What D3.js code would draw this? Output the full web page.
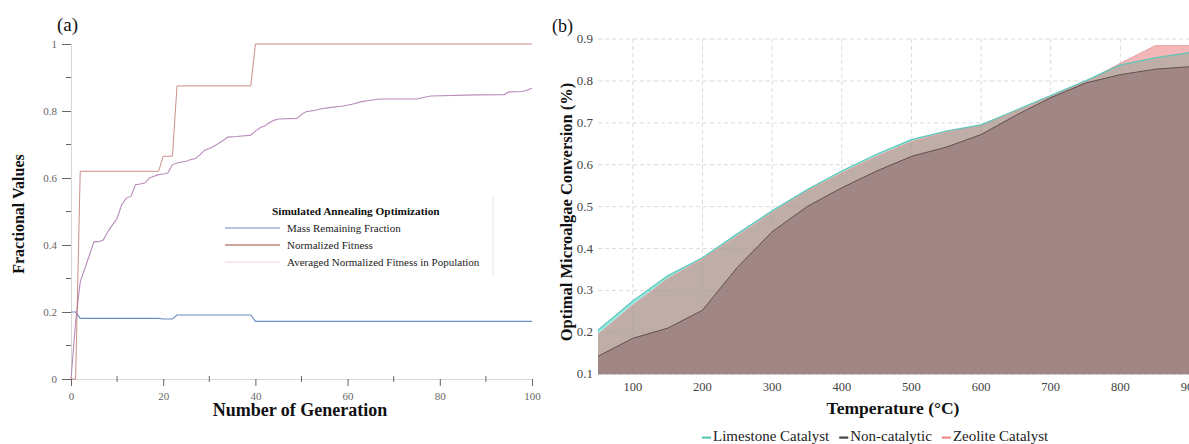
<!DOCTYPE html>
<html>
<head>
<meta charset="utf-8">
<script src="https://cdn.jsdelivr.net/npm/d3@7"></script>
<style>
  body { margin: 0; background: #fff; }
  svg { font-family: "Liberation Serif", "Times New Roman", serif; }
</style>
</head>
<body>
<div id="chart"></div>
<script>
// ---- panel (a) data: breakpoints of each series ----
var massGen = [0, 1, 2, 19, 20, 22, 23, 39, 40, 100];
var massVal = [0.2, 0.2, 0.181, 0.181, 0.179, 0.179, 0.191, 0.191, 0.172, 0.172];

var fitGen = [0, 1, 2, 19, 20, 22, 23, 39, 40, 100];
var fitVal = [0, 0, 0.62, 0.62, 0.665, 0.665, 0.875, 0.875, 1, 1];

var avgGen = [0, 1, 2, 3, 4, 5, 6, 7, 8, 9, 10, 11, 12, 13, 14, 15, 16, 17, 18, 19, 20, 21, 22, 23, 24, 25, 26, 27, 28, 29, 30,
  31, 32, 33, 34, 36, 39, 40, 41, 42, 43, 44, 45, 49, 50, 51, 53, 54, 56, 59, 61, 63, 65, 67, 75, 77, 78, 88, 94, 95, 98, 100];
var avgVal = [0, 0.17, 0.29, 0.33, 0.37, 0.41, 0.41, 0.415, 0.44, 0.46, 0.48, 0.52, 0.54, 0.545, 0.58, 0.582, 0.585, 0.6, 0.605, 0.61, 0.612,
  0.615, 0.64, 0.645, 0.648, 0.65, 0.655, 0.658, 0.67, 0.683, 0.688, 0.695, 0.703, 0.712, 0.722, 0.724, 0.728, 0.74, 0.75, 0.755, 0.765,
  0.772, 0.776, 0.778, 0.79, 0.798, 0.802, 0.806, 0.81, 0.815, 0.82, 0.828, 0.832, 0.836, 0.836, 0.842, 0.845, 0.848, 0.849, 0.857, 0.858, 0.868];

var genTicks = [0, 20, 40, 60, 80, 100];
var genMinor = [10, 30, 50, 70, 90];
var fracTicks = [0, 0.2, 0.4, 0.6, 0.8, 1];
var fracMinor = [0.1, 0.3, 0.5, 0.7, 0.9];

var legendA = ["Mass Remaining Fraction", "Normalized Fitness", "Averaged Normalized Fitness in Population"];

// ---- panel (b) data ----
var temps = [50, 100, 150, 200, 250, 300, 350, 400, 450, 500, 550, 600, 650, 700, 750, 800, 850, 900];
var limestone = [0.205, 0.275, 0.335, 0.378, 0.435, 0.49, 0.54, 0.585, 0.625, 0.66, 0.68, 0.695, 0.73, 0.765, 0.8, 0.838, 0.855, 0.868];
var zeolite = [0.195, 0.265, 0.328, 0.375, 0.43, 0.486, 0.537, 0.58, 0.62, 0.655, 0.678, 0.695, 0.728, 0.763, 0.798, 0.842, 0.884, 0.884];
var noncat = [0.143, 0.186, 0.21, 0.253, 0.355, 0.44, 0.5, 0.545, 0.585, 0.62, 0.642, 0.672, 0.718, 0.76, 0.795, 0.815, 0.828, 0.834];

var tempTicks = [100, 200, 300, 400, 500, 600, 700, 800, 900];
var convTicks = [0.1, 0.2, 0.3, 0.4, 0.5, 0.6, 0.7, 0.8, 0.9];
var legendB = ["Limestone Catalyst", "Non-catalytic", "Zeolite Catalyst"];

var svg = d3.select('#chart').append('svg')
    .attr('width', 1189)
    .attr('height', 444);

// ================= panel (a) =================
var xa = d3.scaleLinear().domain([0, 100]).range([71, 532]);
var ya = d3.scaleLinear().domain([0, 1]).range([379, 44]);

var a = svg.append('g');

var yAxisA = d3.axisLeft(ya).tickValues(fracTicks).tickSize(9).tickPadding(5)
    .tickFormat(function (d) { return d === 0 || d === 1 ? d : d3.format('.1f')(d); });
var gy = a.append('g').attr('transform', 'translate(71,0)').call(yAxisA)
    .attr('font-family', null).attr('font-size', null);
gy.select('.domain').attr('stroke', '#d6d6d6');
gy.selectAll('.tick line').attr('stroke', '#666');
gy.selectAll('.tick text').attr('fill', '#666').style('font-size', '11px');
a.selectAll('.yminor').data(fracMinor).enter().append('line')
    .attr('x1', 66).attr('x2', 71)
    .attr('y1', function (d) { return ya(d); }).attr('y2', function (d) { return ya(d); })
    .attr('stroke', '#666');

var xAxisA = d3.axisBottom(xa).tickValues(genTicks).tickSize(7).tickPadding(6);
var gx = a.append('g').attr('transform', 'translate(0,379)').call(xAxisA)
    .attr('font-family', null).attr('font-size', null);
gx.select('.domain').attr('stroke', '#d6d6d6');
gx.selectAll('.tick line').attr('stroke', '#666');
gx.selectAll('.tick text').attr('fill', '#666').style('font-size', '11px');
a.selectAll('.xminor').data(genMinor).enter().append('line')
    .attr('x1', function (d) { return xa(d); }).attr('x2', function (d) { return xa(d); })
    .attr('y1', 376).attr('y2', 382)
    .attr('stroke', '#666');

var lineA = function (gens, vals) {
    return d3.line().x(function (d, i) { return xa(gens[i]); }).y(function (d) { return ya(d); })(vals);
};

a.append('path').attr('d', lineA(massGen, massVal))
    .attr('fill', 'none').attr('stroke', '#6c8cc4').attr('stroke-width', 1.1);
a.append('path').attr('d', lineA(avgGen, avgVal))
    .attr('fill', 'none').attr('stroke', '#b98cbb').attr('stroke-width', 1.1);
a.append('path').attr('d', lineA(fitGen, fitVal))
    .attr('fill', 'none').attr('stroke', '#b4605a').attr('stroke-width', 1).attr('stroke-opacity', 0.7);

// legend (a)
var lg = a.append('g');
lg.append('line').attr('x1', 493).attr('x2', 493).attr('y1', 197).attr('y2', 275)
    .attr('stroke', '#e6e6e6');
lg.append('text').attr('x', 272).attr('y', 215)
    .style('font-size', '11.3px').style('font-weight', 'bold').attr('fill', '#111')
    .text('Simulated Annealing Optimization');
var legColA = ['#6c8cc4', '#a24a3e', '#f1d4e6'];
legendA.forEach(function (t, i) {
    var yy = 228 + i * 17;
    lg.append('line').attr('x1', 225).attr('x2', 280).attr('y1', yy).attr('y2', yy)
        .attr('stroke', legColA[i]).attr('stroke-width', 1.1);
    lg.append('text').attr('x', 287).attr('y', yy + 3.8)
        .style('font-size', '11px').attr('fill', '#222').text(t);
});

a.append('text').attr('x', 57).attr('y', 31).style('font-size', '19px').attr('fill', '#111').text('(a)');
a.append('text').attr('x', 300).attr('y', 416).attr('text-anchor', 'middle')
    .style('font-size', '18px').style('font-weight', 'bold').attr('fill', '#111')
    .text('Number of Generation');
a.append('text').attr('transform', 'translate(24,214) rotate(-90)').attr('text-anchor', 'middle')
    .style('font-size', '16px').style('font-weight', 'bold').attr('fill', '#111')
    .text('Fractional Values');

// ================= panel (b) =================
var xb = d3.scaleLinear().domain([50, 900]).range([598, 1190]);
var yb = d3.scaleLinear().domain([0.1, 0.9]).range([374.3, 39]);

var b = svg.append('g');

// grid
b.selectAll('.hgrid').data(convTicks).enter().append('line')
    .attr('x1', 598).attr('x2', 1189)
    .attr('y1', function (d) { return yb(d); }).attr('y2', function (d) { return yb(d); })
    .attr('stroke', '#dcdcdc').attr('stroke-dasharray', '4,3');
b.selectAll('.vgrid').data(tempTicks).enter().append('line')
    .attr('x1', function (d) { return xb(d); }).attr('x2', function (d) { return xb(d); })
    .attr('y1', yb(0.9)).attr('y2', yb(0.1))
    .attr('stroke', '#dcdcdc').attr('stroke-dasharray', '4,3');

var areaB = function (vals) {
    return d3.area().x(function (d, i) { return xb(temps[i]); })
        .y0(yb(0.1)).y1(function (d) { return yb(d); })(vals);
};
var lineB = function (vals) {
    return d3.line().x(function (d, i) { return xb(temps[i]); }).y(function (d) { return yb(d); })(vals);
};

b.append('path').attr('d', areaB(limestone)).attr('fill', '#2ddcc3').attr('fill-opacity', 0.5);
b.append('path').attr('d', areaB(zeolite)).attr('fill', '#e8706f').attr('fill-opacity', 0.5);
b.append('path').attr('d', areaB(noncat)).attr('fill', '#815d60').attr('fill-opacity', 0.5);

b.append('path').attr('d', lineB(zeolite)).attr('fill', 'none').attr('stroke', '#eba0a0').attr('stroke-width', 1);
b.append('path').attr('d', lineB(limestone)).attr('fill', 'none').attr('stroke', '#5ec6ba').attr('stroke-width', 1.3);
b.append('path').attr('d', lineB(noncat)).attr('fill', 'none').attr('stroke', '#4e3c3c').attr('stroke-width', 0.8);

// tick labels
b.selectAll('.ylab').data(convTicks).enter().append('text')
    .attr('x', 593).attr('y', function (d) { return yb(d) + 4; })
    .attr('text-anchor', 'end').style('font-size', '13px').attr('fill', '#444')
    .text(function (d) { return d3.format('.1f')(d); });
b.selectAll('.xlab').data(tempTicks).enter().append('text')
    .attr('x', function (d) { return xb(d); }).attr('y', 391)
    .attr('text-anchor', 'middle').style('font-size', '12.5px').attr('fill', '#444')
    .text(function (d) { return d; });

b.append('text').attr('x', 552).attr('y', 32).style('font-size', '18px').attr('fill', '#111').text('(b)');
b.append('text').attr('x', 893).attr('y', 414).attr('text-anchor', 'middle')
    .style('font-size', '17.5px').style('font-weight', 'bold').attr('fill', '#111')
    .text('Temperature (°C)');
b.append('text').attr('transform', 'translate(572,212) rotate(-90)').attr('text-anchor', 'middle')
    .style('font-size', '16.5px').style('font-weight', 'bold').attr('fill', '#111')
    .text('Optimal Microalgae Conversion (%)');

// legend (b)
var legColB = ['#5cc8bc', '#444444', '#f08a8a'];
var lx = 702;
legendB.forEach(function (t, i) {
    b.append('rect').attr('x', lx).attr('y', 436.5).attr('width', 9).attr('height', 2.2).attr('fill', legColB[i]);
    var tx = b.append('text').attr('x', lx + 11).attr('y', 441)
        .style('font-size', '15px').attr('fill', '#222').text(t);
    lx = lx + 11 + tx.node().getComputedTextLength() + 10;
});
</script>
</body>
</html>
